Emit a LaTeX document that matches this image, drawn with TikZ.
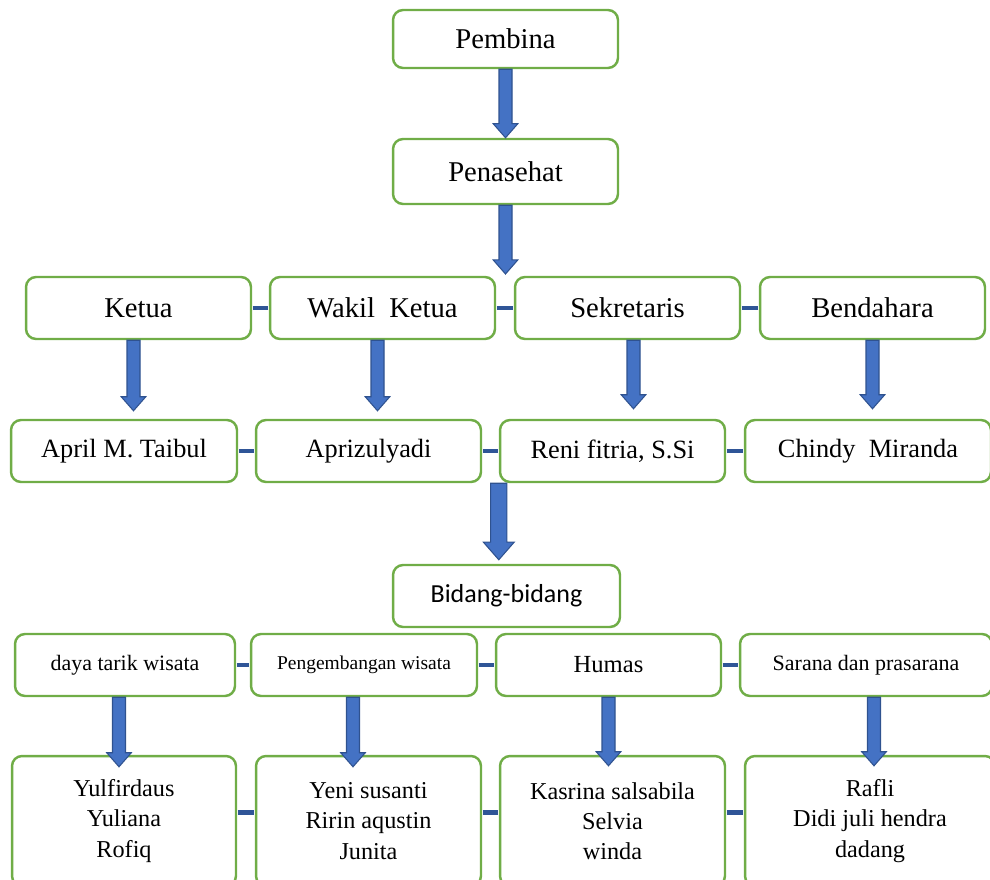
\documentclass[tikz,border=0pt]{standalone}
\usepackage{fontspec}
\setmainfont{Liberation Serif}
\newfontfamily\calibri{Carlito}
\usetikzlibrary{calc}
\definecolor{boxgreen}{HTML}{70AD47}
\definecolor{arrowblue}{HTML}{4472C4}
\definecolor{arrowedge}{HTML}{2F528F}
\definecolor{tieblue}{HTML}{2F5597}
\tikzset{
  box/.style={draw=boxgreen, line width=1.4pt, rounded corners=5.7pt, fill=white,
    align=center, inner sep=0pt, minimum width=4.5cm, minimum height=1.24cm},
  blkarrow/.style={fill=arrowblue, draw=arrowedge, line width=0.6pt},
  tie/.style={draw=tieblue, line width=2.6pt, shorten <=0.4pt, shorten >=0.4pt},
  big/.style={font=\fontsize{16.3}{19}\selectfont},
  mid/.style={font=\fontsize{15}{18}\selectfont},
  names/.style={font=\fontsize{13.8}{17.2}\selectfont},
}
% block arrow: [scale]{start}{tip}
\newcommand{\blkarrow}[3][1]{%
  \filldraw[blkarrow] let \p1=(#2), \p2=(#3) in
    (\x1-3.7pt*#1,\y1) -- (\x1+3.7pt*#1,\y1) -- (\x1+3.7pt*#1,\y2+8pt*#1)
    -- (\x1+7pt*#1,\y2+8pt*#1) -- (\x1,\y2) -- (\x1-7pt*#1,\y2+8pt*#1)
    -- (\x1-3.7pt*#1,\y2+8pt*#1) -- cycle;}
\begin{document}
\begin{tikzpicture}[x=0.02cm,y=-0.02cm]
\useasboundingbox (0,0) rectangle (990,879);
%top
\node[box,big,minimum height=1.16cm] (pembina) at (505.5,39) {Pembina};
\node[box,big,minimum height=1.3cm] (penasehat) at (505.5,171.5) {Penasehat};
\coordinate (rowtop) at (506,274);
%pengurus
\node[box,big] (ketua) at (138.5,308) {Ketua};
\node[box,big] (wakil) at (382.5,308) {Wakil\ \ Ketua};
\node[box,big] (sekretaris) at (627.5,308) {Sekretaris};
\node[box,big] (bendahara) at (872.5,308) {Bendahara};
%nama pengurus
\node[box,mid,minimum width=4.52cm] (april) at (124,451) {April M. Taibul};
\node[box,mid] (apriz) at (368.5,451) {Aprizulyadi};
\node[box,mid] (reni) at (612.5,451) {Reni fitria, S.Si};
\node[box,mid,minimum width=4.92cm] (chindy) at (868,451) {Chindy\ \ Miranda};
\coordinate (rowbot) at (reni.south west);
%bidang
\node[box,minimum width=4.54cm,font=\calibri\fontsize{14.8}{18}\selectfont] (bidang) at (506.5,596) {Bidang-bidang};
\node[box,minimum width=4.4cm,font=\fontsize{12.5}{15}\selectfont] (daya) at (125,665) {daya tarik wisata};
\node[box,minimum width=4.52cm,font=\fontsize{11.1}{13}\selectfont] (pengembangan) at (364,665) {\raisebox{3pt}{Pengembangan wisata}};
\node[box,font=\fontsize{14}{17}\selectfont] (humas) at (608.5,665) {Humas};
\node[box,minimum width=5.04cm,font=\fontsize{12.5}{15}\selectfont] (sarana) at (866,665) {Sarana dan prasarana};
%anggota
\node[box,names,minimum width=4.48cm,minimum height=2.6cm] (yul) at (124,821) {Yulfirdaus\\Yuliana\\Rofiq};
\node[box,names,minimum height=2.6cm] (yeni) at (368.5,821) {Yeni susanti\\Ririn aqustin\\Junita};
\node[box,names,minimum height=2.6cm] (kasrina) at (612.5,821) {Kasrina salsabila\\Selvia\\winda};
\node[box,names,minimum width=5cm,minimum height=2.6cm] (rafli) at (870,821) {Rafli\\Didi juli hendra\\dadang};
%arrows
\blkarrow{pembina.south}{penasehat.north}
\blkarrow{penasehat.south}{rowtop}
\blkarrow{$(ketua.south)+(-5,0)$}{$(april.north)+(0,-8)$}
\blkarrow{$(wakil.south)+(-5,0)$}{$(apriz.north)+(0,-8)$}
\blkarrow{$(sekretaris.south)+(6,0)$}{$(reni.north)+(0,-10)$}
\blkarrow{bendahara.south}{$(chindy.north)+(0,-10)$}
\blkarrow[1.25]{rowbot}{$(bidang.north)+(0,-4)$}
\blkarrow{$(daya.south)+(-6,0)$}{$(yul.north)+(0,12)$}
\blkarrow{$(pengembangan.south)+(-11,0)$}{$(yeni.north)+(0,12)$}
\blkarrow{humas.south}{$(kasrina.north)+(0,11)$}
\blkarrow{$(sarana.south)+(8,0)$}{$(rafli.north)+(0,11)$}
%ties
\draw[tie] (ketua) -- (wakil);
\draw[tie] (wakil) -- (sekretaris);
\draw[tie] (sekretaris) -- (bendahara);
\draw[tie] (april) -- (apriz);
\draw[tie] (apriz) -- (reni);
\draw[tie] (reni) -- (chindy.west);
\draw[tie] (daya) -- (pengembangan);
\draw[tie] (pengembangan) -- (humas);
\draw[tie] (humas) -- (sarana);
\draw[tie] ([yshift=5pt]yul.east) -- ([yshift=5pt]yeni.west);
\draw[tie] ([yshift=5pt]yeni.east) -- ([yshift=5pt]kasrina.west);
\draw[tie] ([yshift=5pt]kasrina.east) -- ([yshift=5pt]rafli.west);
\end{tikzpicture}
\end{document}
